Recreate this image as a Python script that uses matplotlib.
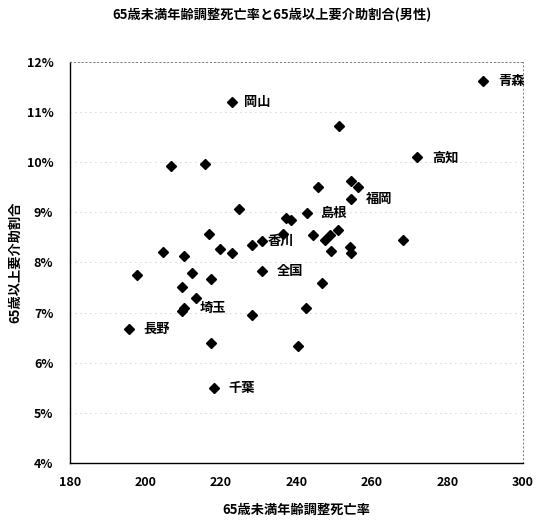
import matplotlib.pyplot as plt
import matplotlib as mpl
from matplotlib.ticker import FuncFormatter

# fonts: japanese text needs a CJK family
mpl.rcParams['font.family'] = ['Noto Sans CJK JP', 'DejaVu Sans']
mpl.rcParams['font.size'] = 9

# DATA: 65歳未満年齢調整死亡率 (x) vs 65歳以上要介助割合 (y, %)
death_rate = [289.4, 222.9, 251.3, 272.0, 206.8, 215.9, 245.6, 254.4, 256.3,
              254.5, 242.7, 224.9, 237.3, 238.5, 236.5, 230.8, 228.2, 216.9,
              219.7, 223.0, 204.6, 210.2, 244.5, 247.5, 248.9, 250.9, 249.1,
              254.2, 254.4, 268.1, 230.8, 246.7, 242.6, 228.1, 213.5, 217.4,
              212.4, 197.7, 209.6, 210.2, 209.6, 195.7, 217.4, 218.1, 240.4]
care_ratio = [11.62, 11.20, 10.72, 10.10, 9.92, 9.96, 9.51, 9.62, 9.51,
              9.26, 8.98, 9.06, 8.88, 8.84, 8.56, 8.43, 8.35, 8.57,
              8.26, 8.18, 8.20, 8.13, 8.54, 8.45, 8.54, 8.65, 8.23,
              8.31, 8.18, 8.45, 7.83, 7.59, 7.09, 6.95, 7.29, 7.67,
              7.80, 7.76, 7.52, 7.09, 7.04, 6.67, 6.39, 5.49, 6.33]
# labelled points: name -> index into the arrays, offset in pixels
labels = {'青森': (0, 15), '岡山': (1, 12), '高知': (3, 15), '福岡': (9, 15),
          '島根': (10, 14), '香川': (15, 6), '全国': (30, 15), '埼玉': (39, 16),
          '長野': (41, 14), '千葉': (43, 15)}

fig = plt.figure(figsize=(5.38, 5.24), dpi=100)
ax = fig.add_axes([0.130, 0.1164, 0.842, 0.7653])

ax.plot(death_rate, care_ratio, linestyle='none', marker='D', markersize=5.5,
        color='black')

for name, (i, dx) in labels.items():
    ax.annotate(name, (death_rate[i], care_ratio[i]), xytext=(dx, 0),
                textcoords='offset pixels', ha='left', va='center',
                fontsize=9.5, fontweight='bold')

ax.set_xlim(180, 300)
ax.set_ylim(4, 12)
ax.set_xticks(range(180, 301, 20))
ax.set_yticks(range(4, 13))
ax.yaxis.set_major_formatter(FuncFormatter(lambda v, p: '%d%%' % v))
ax.tick_params(length=0, labelsize=9)
ax.tick_params(axis='x', pad=9)
ax.tick_params(axis='y', pad=12)
for lab in ax.get_xticklabels() + ax.get_yticklabels():
    lab.set_fontweight('bold')

# faint dotted grid
ax.grid(axis='y', color='#aaaaaa', linestyle=(0, (1, 5)), linewidth=0.6)
ax.set_axisbelow(True)
for side in ['top', 'right']:
    ax.spines[side].set_linestyle((0, (1, 3)))
    ax.spines[side].set_color('#777777')
    ax.spines[side].set_linewidth(0.7)
ax.spines['left'].set_linewidth(1.0)
ax.spines['bottom'].set_linewidth(1.0)

ax.set_xlabel('65歳未満年齢調整死亡率', fontweight='bold', fontsize=9.5, labelpad=10)
ax.set_ylabel('65歳以上要介助割合', fontweight='bold', fontsize=9.5)
ax.yaxis.set_label_coords(-0.106, 0.5)
fig.text(0.505, 0.972, '65歳未満年齢調整死亡率と65歳以上要介助割合(男性)',
         ha='center', va='center', fontsize=9.5, fontweight='bold')

fig.savefig('out.png', dpi=100)
